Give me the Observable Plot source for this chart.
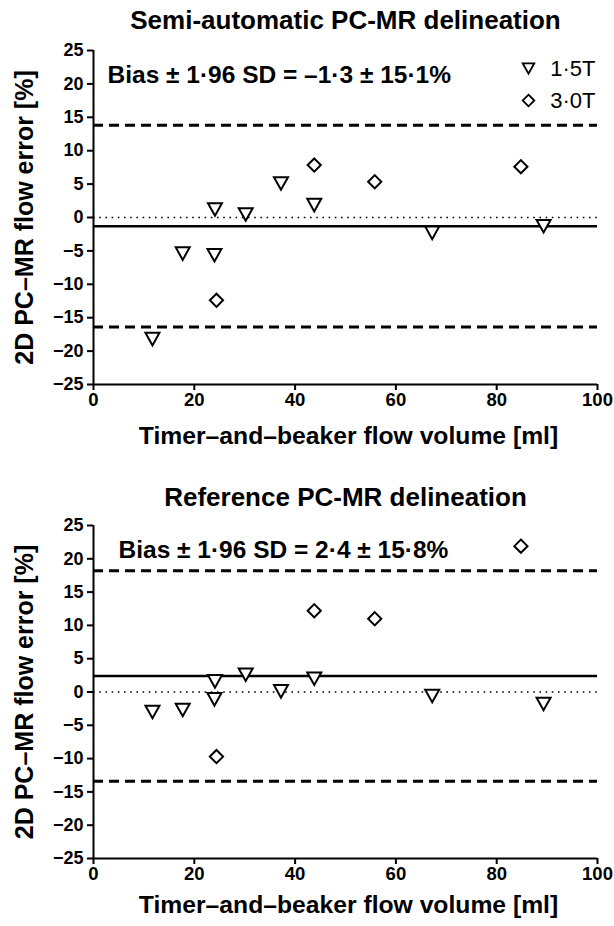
<!DOCTYPE html>
<html><head><meta charset="utf-8">
<script src="https://cdn.jsdelivr.net/npm/d3@7"></script>
<script src="https://cdn.jsdelivr.net/npm/@observablehq/plot@0.6"></script>
<style>
body{margin:0;background:#fff;}
#chart{width:614px;}
#chart svg{display:block;}
</style></head><body><div id="chart"></div>
<script>
// ---- data ----
const seriesNames = ["1·5T", "3·0T"];
const panelTitles = ["Semi-automatic PC-MR delineation", "Reference PC-MR delineation"];
const xLabel = "Timer–and–beaker flow volume [ml]";
const yLabel = "2D PC–MR flow error [%]";
const xTicks = [0, 20, 40, 60, 80, 100];
const yTicks = [-25, -20, -15, -10, -5, 0, 5, 10, 15, 20, 25];
const xDomain = [0, 100];
const yDomain = [-25, 25];

// 1.5T flow volumes and errors
const volume15 = [11.7, 17.7, 24.0, 24.1, 30.2, 37.2, 43.8, 67.2, 89.3];
const errorSemi15 = [-18.2, -5.4, -5.65, 1.2, 0.45, 5.1, 1.85, -2.3, -1.3];
const errorRef15 = [-3.0, -2.7, -1.1, 1.6, 2.6, 0.1, 2.0, -0.6, -1.8];
// 3.0T flow volumes and errors
const volume30 = [24.4, 43.8, 55.8, 84.8];
const errorSemi30 = [-12.4, 7.85, 5.35, 7.6];
const errorRef30 = [-9.7, 12.2, 11.0, 21.9];

// Bias and 1.96 SD
const biasValues = [-1.3, 2.4];
const limitValues = [15.1, 15.8];
const biasTexts = ["Bias ± 1·96 SD = –1·3 ± 15·1%", "Bias ± 1·96 SD = 2·4 ± 15·8%"];

// ---- symbols ----
const triangleDown = {
  draw(ctx, size) {
    const r = Math.sqrt(size / Math.PI);
    const h = r * 0.9;
    ctx.moveTo(-r, -h);
    ctx.lineTo(r, -h);
    ctx.lineTo(0, h);
    ctx.closePath();
  }
};
const diamond = {
  draw(ctx, size) {
    const r = Math.sqrt(size / Math.PI);
    ctx.moveTo(0, -r);
    ctx.lineTo(r, 0);
    ctx.lineTo(0, r);
    ctx.lineTo(-r, 0);
    ctx.closePath();
  }
};

const font = "'Liberation Sans', Arial, Helvetica, sans-serif";
const fmt = d => d < 0 ? "\u2212" + Math.abs(d) : String(d);

function makePanel(k, opts) {
  const err15 = k === 0 ? errorSemi15 : errorRef15;
  const err30 = k === 0 ? errorSemi30 : errorRef30;
  const rows15 = volume15.map((v, i) => ({volume: v, error: err15[i]}));
  const rows30 = volume30.map((v, i) => ({volume: v, error: err30[i]}));
  const bias = biasValues[k];
  const lim = limitValues[k];
  const marks = [
    // title
    Plot.text([panelTitles[k]], {frameAnchor: "top", dy: opts.titleDy, dx: 0, fontSize: 26, fontWeight: "bold", lineAnchor: "middle", textAnchor: "middle"}),
    // reference lines
    Plot.ruleY([0], {stroke: "black", strokeWidth: 1.6, strokeDasharray: "1.6,4.6"}),
    Plot.ruleY([bias], {stroke: "black", strokeWidth: 2.4}),
    Plot.ruleY([bias + lim, bias - lim], {stroke: "black", strokeWidth: 3, strokeDasharray: "10,6"}),
    // axes
    Plot.ruleX([xDomain[0]], {stroke: "black", strokeWidth: 2}),
    Plot.ruleY([yDomain[0]], {stroke: "black", strokeWidth: 2}),
    Plot.axisX({ticks: xTicks, tickSize: 6, tickPadding: 2, fontSize: 18.5, fontWeight: "bold", strokeWidth: 2, label: null, tickFormat: fmt}),
    Plot.axisY({ticks: yTicks, tickSize: 6, tickPadding: 4, fontSize: 18, fontWeight: "bold", strokeWidth: 2, label: null, tickFormat: fmt}),
    Plot.text([xLabel], {frameAnchor: "bottom", dy: opts.xLabelDy, dx: 3, fontSize: 24.7, fontWeight: "bold", lineAnchor: "middle", textAnchor: "middle"}),
    Plot.text([yLabel], {frameAnchor: "left", dx: -69, rotate: -90, fontSize: 25, fontWeight: "bold", lineAnchor: "middle", textAnchor: "middle"}),
    // bias annotation
    Plot.text([biasTexts[k]], {frameAnchor: "top-left", dx: opts.biasDx, dy: 25, fontSize: 24.5, fontWeight: "bold", textAnchor: "start", lineAnchor: "middle"}),
    // data
    Plot.dot(rows15, {x: "volume", y: "error", symbol: triangleDown, r: 7, stroke: "black", strokeWidth: 2, fill: "white"}),
    Plot.dot(rows30, {x: "volume", y: "error", symbol: diamond, r: 6.6, stroke: "black", strokeWidth: 2, fill: "white"})
  ];
  if (opts.legend) {
    marks.push(
      Plot.dot([seriesNames[0]], {frameAnchor: "top-right", dx: -69, dy: 18, symbol: triangleDown, r: 5.8, stroke: "black", strokeWidth: 1.8, fill: "white"}),
      Plot.dot([seriesNames[1]], {frameAnchor: "top-right", dx: -69, dy: 50, symbol: diamond, r: 5.8, stroke: "black", strokeWidth: 1.8, fill: "white"}),
      Plot.text([seriesNames[0]], {frameAnchor: "top-right", dx: -2, dy: 18, fontSize: 22, textAnchor: "end", lineAnchor: "middle"}),
      Plot.text([seriesNames[1]], {frameAnchor: "top-right", dx: -2, dy: 50, fontSize: 22, textAnchor: "end", lineAnchor: "middle"})
    );
  }
  return Plot.plot({
    width: 614,
    height: opts.height,
    marginLeft: 93,
    marginRight: 17,
    marginTop: opts.marginTop,
    marginBottom: opts.marginBottom,
    x: {domain: xDomain, axis: null},
    y: {domain: yDomain, axis: null},
    style: {fontFamily: font, color: "black", background: "white", overflow: "visible"},
    marks
  });
}

const el = document.getElementById("chart");
el.append(makePanel(0, {height: 463, marginTop: 50, marginBottom: 79, titleDy: -30, xLabelDy: 52, biasDx: 14, legend: true}));
el.append(makePanel(1, {height: 463, marginTop: 62, marginBottom: 68, titleDy: -28, xLabelDy: 47, biasDx: 25, legend: false}));
</script>
</body></html>
